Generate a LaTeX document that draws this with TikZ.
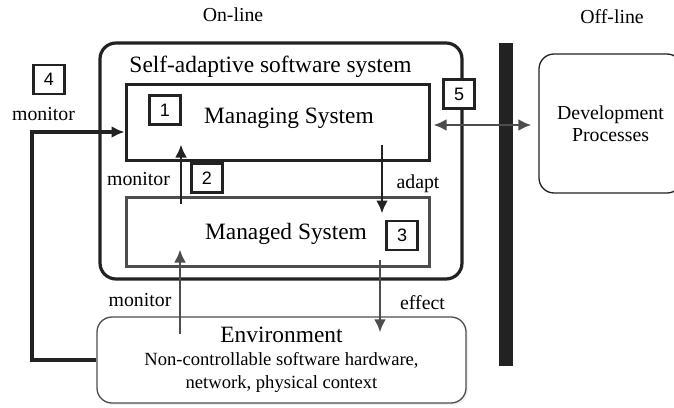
\documentclass[tikz,border=0pt]{standalone}
\usepackage{fontspec}
\setmainfont{Liberation Serif}
\newfontfamily\numfont{Liberation Sans}
\newfontfamily\labelfont{Liberation Serif}
\usetikzlibrary{arrows.meta, calc, shadows}
\definecolor{ink}{HTML}{222222}
\definecolor{mid}{HTML}{4D4D4D}

\begin{document}
\begin{tikzpicture}[x=1pt, y=-1pt, >={Latex[length=13pt, width=12pt]},
  box/.style={draw=ink, line width=3pt, inner sep=0pt},
  num/.style={draw=ink, fill=white, line width=2.6pt, minimum width=31pt, minimum height=29pt, inner sep=0pt, font=\numfont\fontsize{18}{18}\selectfont},
  txt/.style={font=\labelfont\fontsize{23.4}{26}\selectfont, inner sep=0pt, anchor=base},
  lbl/.style={font=\labelfont\fontsize{19.8}{22}\selectfont, inner sep=0pt, anchor=base},
  arr/.style={->, line width=2.8pt, draw=ink},
  garr/.style={arr, draw=mid}]
  \path[use as bounding box, clip] (0,0) rectangle (674,407);

  % the running system
  \node[box, rounded corners=16pt, line width=3.2pt, minimum width=362pt, minimum height=236pt] (sas) at (281,161) {};
  \node[box, minimum width=303pt, minimum height=76pt] (managing) at (277.5,122) {};
  \node[box, draw=mid, minimum width=303pt, minimum height=69pt] (managed) at (277.5,231.5) {};
  \node[txt] (sastxt) at (270.5,72) {Self-adaptive software system};
  \node[txt] (managingtxt) at (289,123) {Managing System};
  \node[txt] (managedtxt) at (286,239) {Managed System};

  \node[draw=mid, line width=1.3pt, rounded corners=15pt, fill=white,
    drop shadow={shadow xshift=2pt, shadow yshift=-2pt, opacity=0.12},
    minimum width=369pt, minimum height=86pt, align=center, inner sep=0pt,
    font=\labelfont\fontsize{18.6}{23}\selectfont] (env) at (281.5,360)
    {{\fontsize{23.4}{23}\selectfont Environment}\\Non-controllable software hardware,\\network, physical context};

  % off-line side
  \node[fill=ink, minimum width=14pt, minimum height=323pt, inner sep=0pt] (bar) at (506,204.5) {};
  \node[draw=ink, line width=1.3pt, rounded corners=15pt, minimum width=143pt, minimum height=139pt,
    align=center, inner sep=0pt, font=\labelfont\fontsize{19.8}{22}\selectfont] (dev) at (610.5,123.5) {Development\\Processes};
  \node[lbl] (online) at (233,21) {On-line};
  \node[lbl] (offline) at (612,23) {Off-line};

  % numbered steps
  \node[num] (n1) at (165,110) {1};
  \node[num] (n2) at (207,178) {2};
  \node[num] (n3) at (402,235.5) {3};
  \node[num] (n4) at (49,79.5) {4};
  \node[num] (n5) at (459,94) {5};

  \node[lbl] (mon4) at (43.5,120) {monitor};
  \node[lbl] (mon2) at (138.5,185) {monitor};
  \node[lbl] (mon1) at (140,306) {monitor};
  \node[lbl] (adapt) at (418,188) {adapt};
  \node[lbl] (effect) at (422.5,309) {effect};

  \coordinate (loop) at (32,132);
  \draw[arr, line width=3.2pt] (env.west) -| (loop) -- (loop -| managing.west);
  \draw[arr] ([xshift=-96.5pt, yshift=-8pt]managed.north) -- ([xshift=-96.5pt, yshift=17pt]managing.south);
  \draw[arr] ([xshift=104.5pt, yshift=17pt]managing.south) -- ([xshift=104.5pt, yshift=-18pt]managed.north);
  \draw[garr] ([xshift=102.5pt, yshift=8pt]managed.south) -- ([xshift=98.5pt, yshift=-16pt]env.north);
  \draw[garr] ([xshift=-101.5pt, yshift=-18pt]env.north) -- ([xshift=-97.5pt, yshift=18pt]managed.south);
  \draw[garr, <->] ([xshift=3pt, yshift=-3pt]managing.east) -- ([xshift=-7pt, yshift=-1.5pt]dev.west);
\end{tikzpicture}
\end{document}
